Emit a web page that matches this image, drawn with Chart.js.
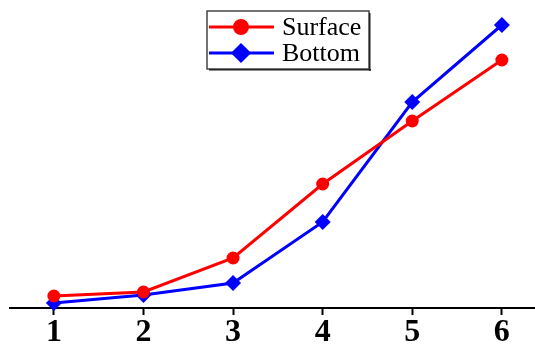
<!DOCTYPE html>
<html>
<head>
<meta charset="utf-8">
<script src="https://cdn.jsdelivr.net/npm/chart.js@4.4.1/dist/chart.umd.min.js"></script>
<style>
  html, body { margin: 0; padding: 0; background: #fff; overflow: hidden; }
  #wrap { width: 535px; height: 351px; position: relative; overflow: hidden; }
  canvas { display: block; }
</style>
</head>
<body>
<div id="wrap"><canvas id="c"></canvas></div>
<script>
const categories = [1, 2, 3, 4, 5, 6];
const surfaceValues = [12, 16, 50, 124, 187, 248];
const bottomValues = [5, 13, 25, 86, 206, 283];
const seriesNames = ['Surface', 'Bottom'];

const legendPlugin = {
  id: 'boxLegend',
  afterDraw(chart) {
    const ctx = chart.ctx;
    const x0 = 207, y0 = 11, w = 162, h = 58;
    ctx.save();
    ctx.fillStyle = '#ffffff';
    ctx.fillRect(x0, y0, w, h);
    ctx.strokeStyle = '#444';
    ctx.lineWidth = 1.5;
    ctx.strokeRect(x0, y0, w, h);
    ctx.fillStyle = '#222';
    ctx.fillRect(x0 + w, y0 + 2, 1.5, h);
    ctx.fillRect(x0 + 2, y0 + h, w, 1.5);
    const rows = [27, 53];
    chart.data.datasets.forEach((ds, i) => {
      const y = rows[i];
      ctx.strokeStyle = ds.borderColor;
      ctx.lineWidth = 3;
      ctx.beginPath();
      ctx.moveTo(209, y);
      ctx.lineTo(274, y);
      ctx.stroke();
      Chart.helpers.drawPoint(ctx, {
        pointStyle: ds.pointStyle,
        radius: ds.pointRadius,
        borderWidth: 1
      }, 241, y);
      ctx.fillStyle = ds.borderColor;
      ctx.fill();
      ctx.fillStyle = '#000';
      ctx.font = '26px "Liberation Serif", serif';
      ctx.textBaseline = 'middle';
      ctx.textAlign = 'left';
      ctx.fillText(ds.label, 282, y + 1);
    });
    ctx.restore();
  }
};

new Chart(document.getElementById('c'), {
  type: 'line',
  data: {
    datasets: [
      {
        label: seriesNames[0],
        data: categories.map((c, i) => ({ x: c, y: surfaceValues[i] })),
        borderColor: '#ff0000',
        backgroundColor: '#ff0000',
        pointStyle: 'circle',
        pointRadius: 6.5,
        pointBorderWidth: 0,
        borderWidth: 3,
        tension: 0,
        clip: false
      },
      {
        label: seriesNames[1],
        data: categories.map((c, i) => ({ x: c, y: bottomValues[i] })),
        borderColor: '#0000ff',
        backgroundColor: '#0000ff',
        pointStyle: 'rectRot',
        pointRadius: 8,
        pointBorderWidth: 0,
        borderWidth: 3,
        tension: 0,
        clip: false
      }
    ]
  },
  options: {
    responsive: true,
    maintainAspectRatio: false,
    animation: false,
    layout: { autoPadding: false, padding: { left: 10, right: 0, top: 0, bottom: 0 } },
    plugins: {
      legend: { display: false },
      tooltip: { enabled: false }
    },
    scales: {
      x: {
        type: 'linear',
        min: 0.51,
        max: 6.37,
        afterBuildTicks(scale) {
          scale.ticks = categories.map(v => ({ value: v }));
        },
        grid: {
          drawOnChartArea: false,
          drawTicks: true,
          tickLength: 7,
          tickWidth: 2,
          tickColor: '#000'
        },
        border: { display: true, color: '#000', width: 2 },
        ticks: {
          padding: 0,
          color: '#000',
          maxRotation: 0,
          font: { family: '"Liberation Serif", serif', size: 32, weight: 'bold', lineHeight: 1.125 },
          callback: v => String(v)
        }
      },
      y: {
        display: false,
        min: 0,
        max: 308
      }
    }
  },
  plugins: [legendPlugin]
});
</script>
</body>
</html>
